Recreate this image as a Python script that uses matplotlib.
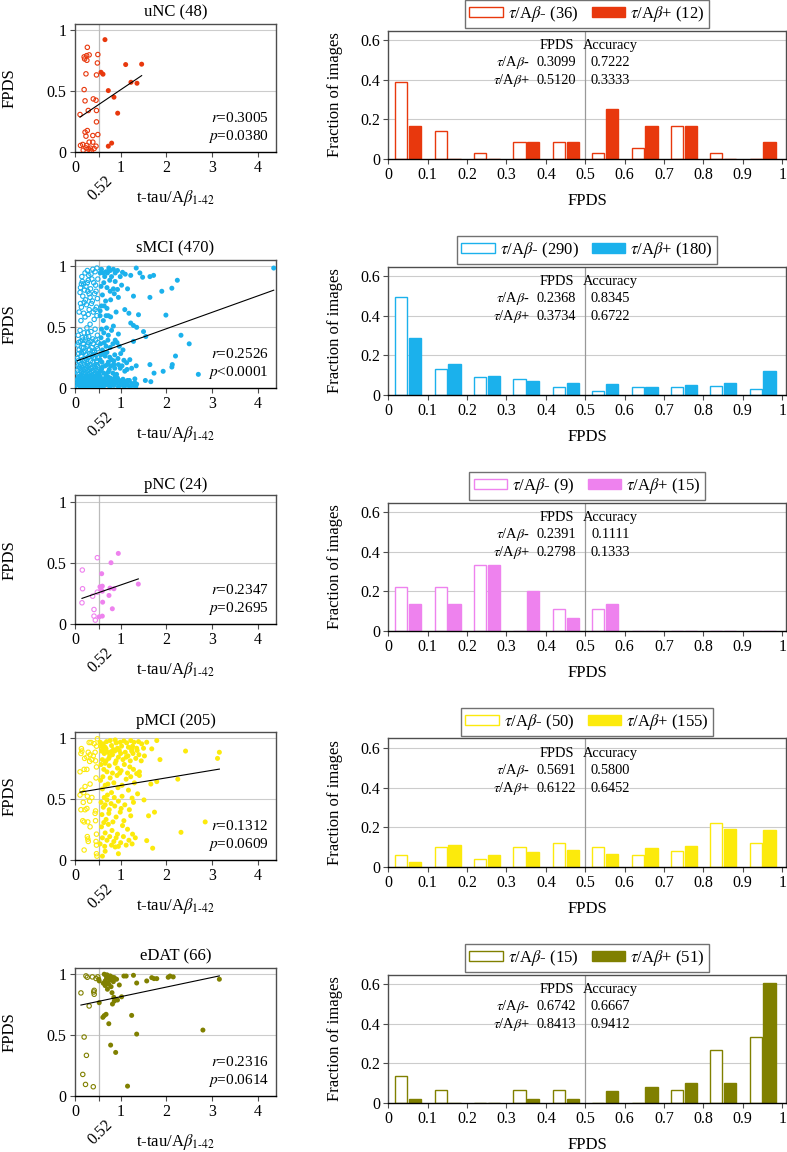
import numpy as np
import matplotlib
matplotlib.use('Agg')
import matplotlib.pyplot as plt
from matplotlib.patches import Patch

plt.rcParams['font.family'] = ['Liberation Serif', 'DejaVu Serif']
plt.rcParams['mathtext.fontset'] = 'stix'

groups = ['uNC', 'sMCI', 'pNC', 'pMCI', 'eDAT']
totals = [48, 470, 24, 205, 66]
colors = ['#E8380D', '#1BB1EC', '#EE82EE', '#FCEA0C', '#808000']
r_text = ['0.3005', '0.2526', '0.2347', '0.1312', '0.2316']
p_text = ['=0.0380', '<0.0001', '=0.2695', '=0.0609', '=0.0614']
n_neg = [36, 290, 9, 50, 15]
n_pos = [12, 180, 15, 155, 51]
fpds_neg = ['0.3099', '0.2368', '0.2391', '0.5691', '0.6742']
fpds_pos = ['0.5120', '0.3734', '0.2798', '0.6122', '0.8413']
acc_neg = ['0.7222', '0.8345', '0.1111', '0.5800', '0.6667']
acc_pos = ['0.3333', '0.6722', '0.1333', '0.6452', '0.9412']

# histogram counts per FPDS bin (0-0.1, ..., 0.9-1)
hist_neg = [
    [14, 5, 1, 3, 3, 1, 2, 6, 1, 0],
    [143, 38, 26, 23, 12, 5, 11, 11, 13, 8],
    [2, 2, 3, 0, 1, 1, 0, 0, 0, 0],
    [3, 5, 2, 5, 6, 5, 3, 4, 11, 6],
    [2, 1, 0, 1, 1, 0, 0, 1, 4, 5],
]
hist_pos = [
    [2, 0, 0, 1, 1, 3, 2, 2, 0, 1],
    [52, 28, 17, 13, 11, 10, 7, 9, 11, 22],
    [2, 2, 5, 3, 1, 2, 0, 0, 0, 0],
    [4, 17, 9, 12, 13, 10, 15, 16, 30, 29],
    [1, 0, 0, 1, 1, 3, 4, 5, 5, 31],
]

# scatter points (t-tau/Abeta, FPDS)
unc_neg = [
    (0.27, 0.855), (0.20, 0.777), (0.255, 0.787), (0.31, 0.793), (0.21, 0.760),
    (0.26, 0.749), (0.50, 0.796), (0.49, 0.727), (0.24, 0.638), (0.47, 0.629),
    (0.20, 0.509), (0.22, 0.417), (0.40, 0.433), (0.46, 0.422), (0.29, 0.338),
    (0.47, 0.338), (0.11, 0.305), (0.47, 0.245), (0.27, 0.174), (0.22, 0.161),
    (0.50, 0.141), (0.24, 0.128), (0.39, 0.133), (0.17, 0.060), (0.12, 0.052),
    (0.255, 0.052), (0.31, 0.079), (0.39, 0.079), (0.46, 0.046), (0.24, 0.032),
    (0.29, 0.024), (0.34, 0.030), (0.42, 0.027), (0.18, 0.013), (0.33, 0.013),
    (0.36, 0.008),
]
unc_pos = [
    (0.656, 0.918), (1.109, 0.714), (1.459, 0.717), (0.569, 0.651), (0.613, 0.635),
    (1.225, 0.569), (1.357, 0.561), (0.729, 0.501), (0.853, 0.447), (0.934, 0.316),
    (0.729, 0.046), (0.802, 0.071),
]

smci_neg = [
    (0.39, 0.97), (0.22, 0.94), (0.44, 0.95), (0.30, 0.92), (0.48, 0.98),
    (0.15, 0.91), (0.35, 0.93), (0.27, 0.96),
    (0.16, 0.87), (0.12, 0.82), (0.19, 0.85), (0.24, 0.83), (0.29, 0.88),
    (0.34, 0.81), (0.41, 0.86), (0.45, 0.84), (0.50, 0.89), (0.21, 0.80),
    (0.37, 0.89), (0.14, 0.85), (0.27, 0.86),
    (0.11, 0.78), (0.17, 0.75), (0.23, 0.72), (0.28, 0.79), (0.33, 0.74),
    (0.38, 0.71), (0.43, 0.77), (0.49, 0.73), (0.20, 0.70), (0.46, 0.79),
    (0.31, 0.77),
    (0.09, 0.62), (0.14, 0.66), (0.19, 0.61), (0.25, 0.68), (0.31, 0.64),
    (0.36, 0.69), (0.40, 0.62), (0.47, 0.66), (0.12, 0.69), (0.29, 0.60),
    (0.44, 0.64),
    (0.13, 0.55), (0.22, 0.58), (0.33, 0.52), (0.42, 0.56), (0.48, 0.59),
    (0.07, 0.43), (0.11, 0.47), (0.16, 0.41), (0.20, 0.45), (0.26, 0.49),
    (0.30, 0.42), (0.35, 0.46), (0.39, 0.40), (0.44, 0.48), (0.49, 0.43),
    (0.24, 0.41), (0.28, 0.45),
    (0.06, 0.35), (0.09, 0.31), (0.12, 0.38), (0.15, 0.33), (0.18, 0.36),
    (0.21, 0.30), (0.23, 0.39), (0.26, 0.34), (0.29, 0.37), (0.32, 0.31),
    (0.35, 0.38), (0.37, 0.33), (0.40, 0.36), (0.43, 0.30), (0.45, 0.39),
    (0.47, 0.34), (0.50, 0.37), (0.17, 0.39), (0.08, 0.37), (0.19, 0.33),
    (0.28, 0.35), (0.38, 0.30), (0.49, 0.32),
    (0.05, 0.24), (0.08, 0.28), (0.10, 0.21), (0.13, 0.26), (0.16, 0.23),
    (0.19, 0.29), (0.21, 0.22), (0.24, 0.27), (0.27, 0.20), (0.29, 0.25),
    (0.32, 0.28), (0.34, 0.22), (0.37, 0.26), (0.39, 0.21), (0.42, 0.29),
    (0.44, 0.24), (0.46, 0.27), (0.48, 0.22), (0.50, 0.25), (0.23, 0.24),
    (0.07, 0.22), (0.14, 0.29), (0.26, 0.23), (0.35, 0.27), (0.41, 0.25),
    (0.47, 0.21),
    (0.05, 0.14), (0.07, 0.18), (0.09, 0.11), (0.11, 0.16), (0.12, 0.19),
    (0.14, 0.13), (0.16, 0.17), (0.18, 0.11), (0.20, 0.15), (0.21, 0.19),
    (0.23, 0.12), (0.25, 0.16), (0.27, 0.14), (0.28, 0.18), (0.30, 0.11),
    (0.32, 0.15), (0.33, 0.19), (0.35, 0.13), (0.37, 0.17), (0.39, 0.10),
    (0.40, 0.14), (0.42, 0.18), (0.44, 0.12), (0.45, 0.16), (0.47, 0.19),
    (0.48, 0.13), (0.50, 0.17), (0.51, 0.11), (0.06, 0.12), (0.10, 0.17),
    (0.15, 0.15), (0.19, 0.13), (0.24, 0.18), (0.31, 0.13), (0.36, 0.16),
    (0.41, 0.11), (0.46, 0.14), (0.49, 0.18),
    (0.05, 0.03), (0.06, 0.07), (0.07, 0.01), (0.08, 0.05), (0.09, 0.09),
    (0.10, 0.02), (0.11, 0.06), (0.12, 0.04), (0.13, 0.08), (0.14, 0.01),
    (0.15, 0.05), (0.16, 0.03), (0.17, 0.09), (0.18, 0.06), (0.19, 0.02),
    (0.20, 0.07), (0.21, 0.04), (0.22, 0.01), (0.23, 0.08), (0.24, 0.05),
    (0.25, 0.03), (0.26, 0.09), (0.27, 0.06), (0.28, 0.02), (0.29, 0.07),
    (0.30, 0.04), (0.31, 0.01), (0.32, 0.08), (0.33, 0.05), (0.34, 0.03),
    (0.35, 0.09), (0.36, 0.06), (0.37, 0.02), (0.38, 0.07), (0.39, 0.04),
    (0.40, 0.01), (0.41, 0.08), (0.42, 0.05), (0.43, 0.03), (0.44, 0.09),
    (0.45, 0.06), (0.46, 0.02), (0.47, 0.07), (0.48, 0.04), (0.49, 0.01),
    (0.50, 0.08), (0.51, 0.05), (0.07, 0.045), (0.115, 0.085), (0.155, 0.015),
    (0.195, 0.035), (0.235, 0.065), (0.275, 0.095), (0.315, 0.025), (0.355, 0.055),
    (0.395, 0.085), (0.435, 0.015), (0.475, 0.045), (0.505, 0.025), (0.13, 0.055),
    (0.185, 0.075), (0.245, 0.025), (0.305, 0.065), (0.365, 0.035), (0.425, 0.075),
    (0.485, 0.065), (0.225, 0.045), (0.345, 0.015), (0.455, 0.035), (0.095, 0.065),
    (0.055, 0.012), (0.065, 0.058), (0.075, 0.083), (0.085, 0.027), (0.105, 0.044),
    (0.125, 0.016), (0.135, 0.071), (0.145, 0.038), (0.165, 0.092), (0.175, 0.021),
    (0.185, 0.053), (0.205, 0.012), (0.215, 0.081), (0.225, 0.066), (0.245, 0.091),
    (0.255, 0.048), (0.265, 0.017), (0.285, 0.074), (0.295, 0.036), (0.305, 0.088),
    (0.325, 0.014), (0.335, 0.062), (0.345, 0.091), (0.365, 0.047), (0.375, 0.012),
    (0.385, 0.058), (0.405, 0.033), (0.415, 0.067), (0.425, 0.022), (0.445, 0.052),
    (0.455, 0.083), (0.465, 0.011), (0.475, 0.064), (0.495, 0.037), (0.505, 0.072),
    (0.16, 0.043), (0.21, 0.028), (0.26, 0.072), (0.31, 0.047), (0.36, 0.024),
    (0.41, 0.038), (0.46, 0.091), (0.20, 0.052), (0.25, 0.014), (0.30, 0.083),
    (0.35, 0.041), (0.40, 0.066), (0.45, 0.028), (0.50, 0.051), (0.12, 0.097),
    (0.17, 0.065), (0.22, 0.031), (0.27, 0.043), (0.32, 0.012), (0.37, 0.087),
    (0.42, 0.006), (0.47, 0.025), (0.14, 0.022), (0.19, 0.088), (0.24, 0.068),
    (0.29, 0.054), (0.34, 0.076), (0.39, 0.018), (0.44, 0.061), (0.49, 0.043),
    (0.11, 0.032), (0.23, 0.006), (0.33, 0.032), (0.43, 0.057), (0.28, 0.006),
    (0.38, 0.095), (0.48, 0.087), (0.18, 0.005),
]
smci_pos = [
    (1.34, 0.98), (1.42, 0.94), (1.48, 0.905), (1.64, 0.91), (1.72, 0.92),
    (0.88, 0.94), (0.84, 0.97), (0.77, 0.96), (0.68, 0.95), (0.55, 0.94),
    (0.62, 0.94), (0.71, 0.94), (1.04, 0.945), (0.80, 0.91), (0.99, 0.91),
    (4.35, 0.98), (0.58, 0.97), (0.93, 0.96), (1.10, 0.93), (0.65, 0.91),
    (0.74, 0.98), (1.22, 0.92),
    (2.24, 0.88), (2.12, 0.815), (0.84, 0.81), (0.93, 0.805), (0.88, 0.87),
    (0.57, 0.83), (0.63, 0.86), (0.70, 0.82), (0.76, 0.88), (1.02, 0.84),
    (1.15, 0.81),
    (1.90, 0.79), (1.64, 0.74), (1.28, 0.75), (0.77, 0.79), (0.95, 0.74),
    (0.78, 0.72), (0.60, 0.76), (0.67, 0.71), (0.86, 0.77),
    (1.09, 0.64), (0.58, 0.67), (0.64, 0.67), (0.90, 0.62), (0.70, 0.65),
    (1.18, 0.61), (0.55, 0.63),
    (1.99, 0.595), (1.39, 0.598), (1.22, 0.53), (1.28, 0.51), (0.78, 0.58),
    (0.73, 0.59), (0.68, 0.59), (0.55, 0.59), (0.84, 0.505), (0.62, 0.55),
    (1.35, 0.495), (1.50, 0.46), (1.55, 0.42), (2.32, 0.43), (0.73, 0.43),
    (0.69, 0.49), (0.58, 0.48), (0.63, 0.45), (0.80, 0.47), (0.95, 0.44),
    (0.57, 0.41),
    (1.28, 0.38), (2.50, 0.36), (0.97, 0.34), (0.88, 0.39), (0.64, 0.37),
    (0.68, 0.34), (0.77, 0.33), (0.56, 0.36), (0.60, 0.31), (0.83, 0.36),
    (0.72, 0.39), (1.05, 0.31), (0.92, 0.37),
    (2.20, 0.26), (1.20, 0.23), (1.07, 0.225), (1.13, 0.205), (0.62, 0.285),
    (0.55, 0.23), (0.80, 0.23), (0.66, 0.26), (0.73, 0.21), (0.87, 0.27),
    (0.59, 0.21), (0.94, 0.24), (0.70, 0.29), (1.00, 0.28), (0.76, 0.25),
    (0.57, 0.27), (0.85, 0.22),
    (2.13, 0.19), (2.12, 0.17), (1.93, 0.135), (1.73, 0.12), (1.64, 0.19),
    (1.34, 0.18), (0.99, 0.16), (1.09, 0.136), (0.71, 0.19), (0.55, 0.136),
    (0.68, 0.11), (2.70, 0.11), (0.60, 0.17), (0.63, 0.12), (0.75, 0.15),
    (0.79, 0.18), (0.83, 0.12), (0.87, 0.16), (0.91, 0.11), (0.95, 0.19),
    (1.03, 0.18), (1.14, 0.15), (0.58, 0.15), (0.66, 0.18), (0.73, 0.13),
    (0.85, 0.19), (1.24, 0.16), (0.52, 0.12),
    (0.88, 0.095), (1.31, 0.073), (1.54, 0.06), (1.66, 0.05), (0.77, 0.08),
    (0.91, 0.04), (1.02, 0.035), (1.13, 0.035), (1.24, 0.035), (1.31, 0.04),
    (0.58, 0.04), (0.69, 0.027), (0.80, 0.022), (0.62, 0.073), (0.55, 0.095),
    (0.53, 0.02), (0.56, 0.06), (0.60, 0.01), (0.64, 0.05), (0.67, 0.08),
    (0.71, 0.03), (0.74, 0.06), (0.76, 0.01), (0.79, 0.05), (0.83, 0.07),
    (0.85, 0.02), (0.87, 0.05), (0.93, 0.08), (0.95, 0.01), (0.97, 0.06),
    (0.99, 0.02), (1.05, 0.07), (1.08, 0.01), (1.10, 0.05), (1.16, 0.02),
    (1.19, 0.06), (1.21, 0.01), (1.27, 0.02), (1.33, 0.01), (1.35, 0.03),
    (0.54, 0.08), (0.59, 0.065), (0.63, 0.015), (0.66, 0.045), (0.72, 0.09),
    (0.81, 0.035), (0.90, 0.065), (1.00, 0.05), (1.06, 0.025), (1.15, 0.06),
    (0.73, 0.045), (0.57, 0.03),
]

pnc_neg = [
    (0.489, 0.541), (0.16, 0.44), (0.165, 0.287), (0.153, 0.172), (0.387, 0.226),
    (0.489, 0.259), (0.416, 0.117), (0.416, 0.063), (0.445, 0.030),
]
pnc_pos = [
    (0.948, 0.576), (0.788, 0.50), (0.584, 0.41), (0.547, 0.303), (0.598, 0.308),
    (0.569, 0.281), (0.598, 0.267), (0.766, 0.292), (0.853, 0.287), (1.386, 0.325),
    (0.744, 0.232), (0.605, 0.177), (0.817, 0.123), (0.53, 0.057), (0.598, 0.063),
]

pmci_neg = [
    (0.49, 0.99), (0.35, 0.96), (0.42, 0.95), (0.47, 0.93), (0.14, 0.91), (0.31, 0.96),
    (0.15, 0.89), (0.13, 0.87), (0.29, 0.88), (0.33, 0.86), (0.40, 0.85), (0.21, 0.83),
    (0.37, 0.82), (0.45, 0.81), (0.26, 0.84), (0.44, 0.88), (0.32, 0.805),
    (0.11, 0.72), (0.20, 0.74), (0.26, 0.74), (0.47, 0.76),
    (0.46, 0.67), (0.33, 0.62), (0.22, 0.60),
    (0.11, 0.53), (0.19, 0.55), (0.37, 0.51), (0.27, 0.52), (0.15, 0.57),
    (0.13, 0.41), (0.22, 0.41), (0.26, 0.42), (0.45, 0.40), (0.18, 0.47), (0.32, 0.48),
    (0.17, 0.32), (0.20, 0.31), (0.28, 0.31), (0.45, 0.32), (0.44, 0.38),
    (0.33, 0.27), (0.47, 0.21),
    (0.27, 0.19), (0.28, 0.17), (0.29, 0.15), (0.46, 0.15), (0.47, 0.12),
    (0.20, 0.08), (0.47, 0.05), (0.48, 0.03),
]
pmci_pos = [
    (0.55, 0.962), (0.62, 0.949), (0.69, 0.967), (0.77, 0.976), (0.88, 0.981),
    (0.99, 0.962), (1.07, 0.973), (1.13, 0.957), (1.22, 0.976), (1.29, 0.962),
    (1.39, 0.967), (1.46, 0.949), (1.57, 0.962), (1.79, 0.976), (0.56, 0.930),
    (0.66, 0.921), (0.80, 0.935), (0.93, 0.913), (1.02, 0.930), (1.17, 0.921),
    (1.26, 0.930), (1.35, 0.913), (1.50, 0.913), (1.68, 0.908), (0.84, 0.902),
    (0.61, 0.905), (1.24, 0.905), (0.90, 0.957), (0.68, 0.908),
    (3.16, 0.88), (3.12, 0.83), (2.42, 0.89), (1.86, 0.82), (0.58, 0.89),
    (0.64, 0.87), (0.71, 0.88), (0.76, 0.85), (0.82, 0.86), (0.87, 0.89),
    (0.95, 0.84), (1.00, 0.87), (1.05, 0.82), (1.10, 0.88), (1.16, 0.85),
    (1.21, 0.81), (1.27, 0.87), (1.33, 0.83), (1.40, 0.86), (1.45, 0.81),
    (0.60, 0.82), (0.68, 0.81), (0.74, 0.83), (0.90, 0.81), (0.97, 0.895),
    (1.12, 0.84), (1.24, 0.89), (1.36, 0.895), (1.52, 0.85), (0.79, 0.885),
    (0.57, 0.78), (0.63, 0.74), (0.70, 0.72), (0.75, 0.77), (0.82, 0.71),
    (0.88, 0.79), (0.93, 0.75), (1.01, 0.73), (1.08, 0.78), (1.15, 0.71),
    (1.20, 0.76), (1.28, 0.74), (1.35, 0.705), (1.41, 0.72), (0.66, 0.79),
    (0.98, 0.71),
    (2.25, 0.66), (1.66, 0.62), (1.79, 0.64), (1.41, 0.69), (0.56, 0.65),
    (0.61, 0.68), (0.72, 0.62), (0.77, 0.67), (0.85, 0.63), (0.92, 0.69),
    (1.03, 0.61), (1.12, 0.66), (1.22, 0.68), (1.30, 0.63), (0.66, 0.61),
    (0.60, 0.58), (0.71, 0.53), (0.80, 0.55), (0.86, 0.51), (0.94, 0.59),
    (1.03, 0.52), (1.17, 0.57), (1.25, 0.505), (0.64, 0.51), (1.37, 0.54),
    (1.51, 0.49), (0.57, 0.47), (0.62, 0.43), (0.70, 0.49), (0.75, 0.41),
    (0.79, 0.46), (0.87, 0.44), (0.95, 0.48), (1.01, 0.42), (1.09, 0.45),
    (1.19, 0.41), (1.28, 0.47), (0.66, 0.45),
    (1.74, 0.39), (1.61, 0.36), (2.85, 0.31), (0.59, 0.37), (0.68, 0.33),
    (0.74, 0.38), (0.83, 0.31), (0.90, 0.35), (0.99, 0.39), (1.07, 0.32),
    (1.22, 0.36), (0.63, 0.305),
    (2.32, 0.225), (0.58, 0.27), (0.66, 0.22), (0.73, 0.29), (0.81, 0.24),
    (0.93, 0.21), (1.04, 0.28), (1.15, 0.25), (1.26, 0.21),
    (1.57, 0.157), (0.55, 0.13), (0.60, 0.18), (0.65, 0.11), (0.70, 0.16),
    (0.76, 0.19), (0.80, 0.12), (0.85, 0.15), (0.90, 0.18), (0.95, 0.11),
    (1.00, 0.14), (1.06, 0.19), (1.12, 0.12), (1.18, 0.16), (1.25, 0.13),
    (1.32, 0.18), (0.88, 0.105),
    (1.70, 0.095), (0.60, 0.03), (0.95, 0.05), (0.66, 0.07),
]

edat_neg = [
    (0.24, 0.981), (0.38, 0.973), (0.50, 0.973), (0.13, 0.842), (0.42, 0.863),
    (0.42, 0.831), (0.31, 0.735), (0.20, 0.481), (0.25, 0.331), (0.17, 0.175),
    (0.23, 0.093), (0.40, 0.074), (0.27, 0.970), (0.46, 0.960), (0.41, 0.850),
]
edat_pos = [
    (3.16, 0.954), (1.35, 0.923), (0.97, 0.907), (1.57, 0.940), (1.68, 0.967),
    (1.79, 0.959), (1.73, 0.959), (2.04, 0.970), (2.08, 0.980), (2.15, 0.973),
    (1.28, 0.986), (1.07, 0.980), (1.12, 0.980), (0.52, 0.954), (0.53, 0.940),
    (0.64, 0.995), (0.68, 0.984), (0.73, 0.975), (0.77, 0.981), (0.82, 0.970),
    (0.86, 0.967), (0.91, 0.954), (0.69, 0.962), (0.66, 0.940), (0.71, 0.926),
    (0.77, 0.948), (0.62, 0.921), (0.66, 0.902), (0.74, 0.913), (0.84, 0.934),
    (0.70, 0.990),
    (0.81, 0.844), (0.71, 0.872), (0.79, 0.893), (1.02, 0.810), (0.85, 0.806),
    (0.53, 0.762), (0.82, 0.751), (0.88, 0.790), (0.93, 0.784), (0.86, 0.775),
    (0.61, 0.642), (0.64, 0.656), (0.68, 0.667), (1.24, 0.658),
    (2.80, 0.538), (1.35, 0.505), (0.74, 0.590),
    (0.78, 0.415), (0.89, 0.355), (1.15, 0.079),
]

neg_pts = [unc_neg, smci_neg, pnc_neg, pmci_neg, edat_neg]
pos_pts = [unc_pos, smci_pos, pnc_pos, pmci_pos, edat_pos]

W, H = 787.0, 1152.0
fig = plt.figure(figsize=(W / 100, H / 100), dpi=100)

spine_col = '#4d4d4d'
grid_col = '#cccccc'
fs = 11.5
lfs = 12
math_tag = r'$\tau$/A$\beta$'
row_step = 236.0

for i, g in enumerate(groups):
    c = colors[i]
    top_s = 23.5 + i * row_step
    top_h = 30.5 + i * row_step
    axs = fig.add_axes([75 / W, 1 - (top_s + 128.3) / H, 201 / W, 128.3 / H])
    axh = fig.add_axes([388.3 / W, 1 - (top_h + 128.3) / H, 397.4 / W, 128.3 / H])

    # scatter of FPDS against t-tau/Abeta
    xn, yn = np.array(neg_pts[i]).T
    xp, yp = np.array(pos_pts[i]).T
    axs.axhline(0.5, color=grid_col, lw=0.8, zorder=0)
    axs.axhline(1.0, color=grid_col, lw=0.8, zorder=0)
    axs.axvline(0.52, color='#bbbbbb', lw=0.9, zorder=0)
    axs.scatter(xn, yn, s=10, facecolors='none', edgecolors=c, linewidths=0.8, zorder=3)
    axs.scatter(xp, yp, s=13, color=c, edgecolors='none', zorder=3)

    xa = np.concatenate([xn, xp])
    ya = np.concatenate([yn, yp])
    k, b = np.polyfit(xa, ya, 1)
    xl = np.array([xa.min(), xa.max()])
    axs.plot(xl, k * xl + b, color='black', lw=0.8, zorder=4)

    axs.set_xlim(0, 4.4)
    axs.set_ylim(0, 1.05)
    axs.set_xticks([0, 0.52, 1, 2, 3, 4], ['0', '', '1', '2', '3', '4'])
    axs.set_yticks([0, 0.5, 1], ['0', '0.5', '1'])
    axs.annotate('0.52', xy=(0.52, 0), xycoords=('data', 'axes fraction'),
                 xytext=(1, -26), textcoords='offset points', rotation=45,
                 ha='center', va='center', fontsize=fs, annotation_clip=False)
    axs.set_title(f'{g} ({totals[i]})', fontsize=lfs, pad=5)
    axs.set_ylabel('FPDS', fontsize=lfs)
    axs.yaxis.set_label_coords(-0.285, 0.5)
    axs.set_xlabel(r't-tau/A$\beta_{\mathrm{1\text{-}42}}$', fontsize=lfs, va='top')
    axs.xaxis.set_label_coords(0.5, -0.28)
    axs.text(0.965, 0.26, r'$r$=' + r_text[i], transform=axs.transAxes,
             ha='right', va='center', fontsize=11)
    axs.text(0.965, 0.122, r'$p$' + p_text[i], transform=axs.transAxes,
             ha='right', va='center', fontsize=11)

    # histogram of FPDS
    bins = np.arange(10) * 0.1
    axh.axhline(0.2, color=grid_col, lw=0.8, zorder=0)
    axh.axhline(0.4, color=grid_col, lw=0.8, zorder=0)
    axh.axhline(0.6, color=grid_col, lw=0.8, zorder=0)
    axh.axvline(0.5, color='#999999', lw=0.9, zorder=0)
    axh.bar(bins + 0.033, np.array(hist_neg[i]) / n_neg[i], width=0.031,
            facecolor='white', edgecolor=c, lw=1.0, zorder=2)
    axh.bar(bins + 0.068, np.array(hist_pos[i]) / n_pos[i], width=0.031,
            facecolor=c, edgecolor=c, lw=1.0, zorder=2)
    axh.set_xlim(0, 1.009)
    axh.set_ylim(0, 0.65)
    axh.set_xticks(np.arange(11) * 0.1,
                   ['0', '0.1', '0.2', '0.3', '0.4', '0.5', '0.6', '0.7', '0.8', '0.9', '1'])
    axh.set_yticks([0, 0.2, 0.4, 0.6], ['0', '0.2', '0.4', '0.6'])
    axh.set_xlabel('FPDS', fontsize=lfs, va='top')
    axh.xaxis.set_label_coords(0.5, -0.265)
    axh.set_ylabel('Fraction of images', fontsize=lfs)
    axh.yaxis.set_label_coords(-0.115, 0.5)

    tfs = 10.4
    axh.text(0.427, 0.573, 'FPDS', ha='center', va='center', fontsize=tfs)
    axh.text(0.564, 0.573, 'Accuracy', ha='center', va='center', fontsize=tfs)
    axh.text(0.359, 0.486, math_tag + '-', ha='right', va='center', fontsize=tfs)
    axh.text(0.359, 0.397, math_tag + '+', ha='right', va='center', fontsize=tfs)
    axh.text(0.427, 0.486, fpds_neg[i], ha='center', va='center', fontsize=tfs)
    axh.text(0.427, 0.397, fpds_pos[i], ha='center', va='center', fontsize=tfs)
    axh.text(0.564, 0.486, acc_neg[i], ha='center', va='center', fontsize=tfs)
    axh.text(0.564, 0.397, acc_pos[i], ha='center', va='center', fontsize=tfs)

    handles = [Patch(facecolor='white', edgecolor=c, lw=1.0),
               Patch(facecolor=c, edgecolor=c, lw=1.0)]
    labels = [f'{math_tag}- ({n_neg[i]})', f'{math_tag}+ ({n_pos[i]})']
    leg = axh.legend(handles, labels, loc='lower center', bbox_to_anchor=(0.5, 1.0),
                     ncol=2, fontsize=lfs, frameon=True, fancybox=False,
                     borderaxespad=0.15, handlelength=2.0, handleheight=0.6,
                     handletextpad=0.3, columnspacing=0.8, borderpad=0.25)
    leg.get_frame().set_edgecolor(spine_col)
    leg.get_frame().set_linewidth(1.0)

    for ax in (axs, axh):
        for s in ax.spines.values():
            s.set_color(spine_col)
            s.set_linewidth(1.0)
        ax.spines['bottom'].set_color('black')
        ax.tick_params(direction='out', length=3.5, width=0.8, color=spine_col,
                       labelsize=fs, pad=2.5)

fig.savefig('out.png', dpi=100)
